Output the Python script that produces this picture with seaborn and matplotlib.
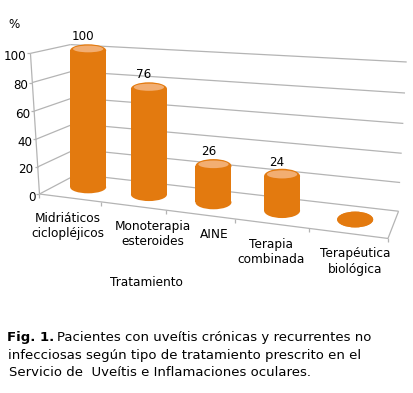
"""
plot.py
Pseudo-3D cylinder chart: treatment type for patients with chronic uveitis.
The perspective box is fitted from a few anchor points (DLT) and every mark
is projected from its (category, value, depth) position.
"""

import numpy as np
import matplotlib
matplotlib.use("Agg")
import matplotlib.pyplot as plt
import seaborn as sns
from matplotlib.patches import Ellipse, Rectangle

# ---- data -------------------------------------------------------------
categories = [
    "Midriáticos\nciclopléjicos",
    "Monoterapia\nesteroides",
    "AINE",
    "Terapia\ncombinada",
    "Terapéutica\nbiológica",
]
percentages = [100, 76, 26, 24, 0]
y_ticks = [0, 20, 40, 60, 80, 100]

# ---- perspective box: world (category, value, depth) -> pixel anchors --
anchors_world = [
    (0, 0, 0), (1, 0, 0), (2, 0, 0), (3, 0, 0), (4, 0, 0), (5, 0, 0),
    (0, 20, 0), (0, 40, 0), (0, 60, 0), (0, 80, 0), (0, 100, 0),
    (0, 0, 1), (0, 100, 1),
    (5, 0, 1), (5, 20, 1), (5, 40, 1), (5, 60, 1), (5, 80, 1), (5, 100, 1),
]
anchors_px = [
    (40, 193), (100, 202), (166, 210), (235, 220), (308, 230), (388, 238),
    (38, 167), (36, 139), (34, 111), (32, 82), (31, 53),
    (77, 175), (70, 45),
    (398, 210), (400, 182), (403, 153), (403, 123), (407, 93), (405, 63),
]
# horizontal nudge (px) of each category label, as Excel spreads them
label_nudge = [-20, 4, 1, -11, 0]

BODY = "#E37A0F"
CAP = "#F2AE72"
GRID = "#B4B4B4"
CYL_WIDTH = 36  # px


def fit_camera(world, px):
    rows = []
    for (u, v, w), (x, y) in zip(world, px):
        p = [u, v / 20.0, w, 1.0]
        x, y = x / 100.0, y / 100.0
        rows.append(p + [0, 0, 0, 0] + [-x * c for c in p])
        rows.append([0, 0, 0, 0] + p + [-y * c for c in p])
    _, _, vt = np.linalg.svd(np.array(rows))
    return vt[-1].reshape(3, 4)


P = fit_camera(anchors_world, anchors_px)


def proj(u, v, w):
    q = P @ np.array([u, v / 20.0, w, 1.0])
    return 100 * q[0] / q[2], 100 * q[1] / q[2]


def line3d(ax, a, b, **kw):
    (x0, y0), (x1, y1) = proj(*a), proj(*b)
    ax.plot([x0, x1], [y0, y1], **kw)


sns.set_theme(style="white")
plt.rcParams["font.family"] = ["DejaVu Sans"]

fig = plt.figure(figsize=(4.13, 3.93), dpi=100)
ax = fig.add_axes([0, 0, 1, 1])
ax.set_xlim(0, 413)
ax.set_ylim(393, 0)
ax.axis("off")

n = len(categories)
grid_kw = dict(color=GRID, lw=0.9, solid_capstyle="butt", zorder=1)

# walls and floor
for t in y_ticks:
    line3d(ax, (0, t, 0), (0, t, 1), **grid_kw)
    line3d(ax, (0, t, 1), (n, t, 1), **grid_kw)
line3d(ax, (0, 0, 0), (n, 0, 0), **grid_kw)
line3d(ax, (n, 0, 0), (n, 0, 1), **grid_kw)
line3d(ax, (0, 0, 0), (0, y_ticks[-1], 0), **grid_kw)

# value axis ticks and labels
for t in y_ticks:
    x, y = proj(0, t, 0)
    ax.plot([x - 3, x], [y, y], **grid_kw)
    ax.text(x - 4, y + 3, str(t), ha="right", va="center", fontsize=8.6, color="black")
x, y = proj(0, y_ticks[-1], 0)
ax.text(x - 16, y - 29, "%", ha="center", va="center", fontsize=8.6, color="black")

# category ticks along the front edge
for i in range(n + 1):
    x, y = proj(i, 0, 0)
    ax.plot([x, x], [y, y + 4], **grid_kw)

# cylinders (kept upright, as Excel draws them)
r_w = 0.3
for i, (label, val) in enumerate(zip(categories, percentages)):
    c = i + 0.5
    bx, by = proj(c, 0, 0.5)
    _, ty = proj(c, val, 0.5)
    wb = CYL_WIDTH
    h = abs(proj(c, 0, 0.5 + r_w)[1] - proj(c, 0, 0.5 - r_w)[1])

    ax.add_patch(Ellipse((bx, by), wb, h, color=BODY, lw=0, zorder=3))
    ax.add_patch(Rectangle((bx - wb / 2, ty), wb, by - ty, color=BODY, lw=0, zorder=3))
    ax.add_patch(Ellipse((bx, ty), wb, h, color=BODY, lw=0, zorder=4))
    if val > 0:
        ax.add_patch(Ellipse((bx, ty - 0.12 * h), 0.84 * wb, 0.55 * h,
                             color=CAP, lw=0, zorder=5))
        ax.text(bx - 5, ty - 14, str(val), ha="center", va="center",
                fontsize=8.6, color="black", zorder=6)

    fx, fy = proj(c, 0, 0)
    ax.text(bx + label_nudge[i], fy + 14, label, ha="center", va="top",
            fontsize=8.7, linespacing=1.25, color="black")

ax.text(146, 282, "Tratamiento", ha="center", va="center", fontsize=8.7, color="black")

# caption
cap_kw = dict(fontsize=9.55, color="black", va="center", ha="left")
ax.text(7, 338, "Fig. 1.", fontweight="bold", **cap_kw)
ax.text(57, 338, "Pacientes con uveítis crónicas y recurrentes no", **cap_kw)
ax.text(8, 355, "infecciosas según tipo de tratamiento prescrito en el", **cap_kw)
ax.text(9, 372, "Servicio de  Uveítis e Inflamaciones oculares.", **cap_kw)

fig.savefig("out.png", dpi=100)
